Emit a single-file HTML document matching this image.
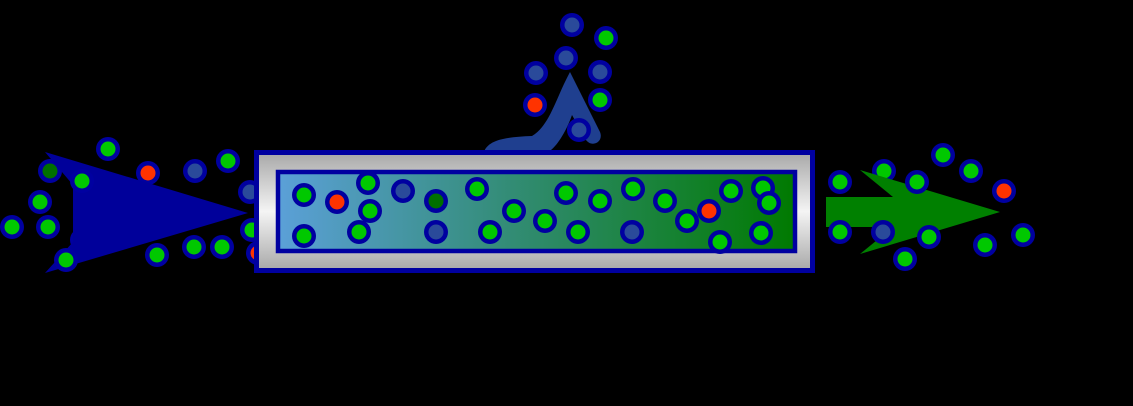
<!DOCTYPE html>
<html><head><style>html,body{margin:0;background:#000;width:1133px;height:406px;overflow:hidden}</style></head>
<body>
<svg width="1133" height="406" viewBox="0 0 1133 406" xmlns="http://www.w3.org/2000/svg">
<defs>
<linearGradient id="silver" x1="0" y1="0" x2="0" y2="1">
<stop offset="0" stop-color="#a8a8a8"/><stop offset="0.5" stop-color="#f4f4f4"/><stop offset="1" stop-color="#a8a8a8"/></linearGradient>
<linearGradient id="inner" x1="0" y1="0" x2="1" y2="0">
<stop offset="0" stop-color="#5ba0d8"/><stop offset="0.5" stop-color="#2e8a6a"/><stop offset="1" stop-color="#007a00"/></linearGradient>
</defs>
<g id="left">
<circle cx="108" cy="149" r="12" fill="#0000a0"/><circle cx="108" cy="149" r="7.5" fill="#00c800"/>
<circle cx="50" cy="171" r="12" fill="#0000a0"/><circle cx="50" cy="171" r="7.5" fill="#007000"/>
<circle cx="148" cy="173" r="12" fill="#0000a0"/><circle cx="148" cy="173" r="7.5" fill="#ff3300"/>
<circle cx="195" cy="171" r="12" fill="#0000a0"/><circle cx="195" cy="171" r="7.5" fill="#2a4a9a"/>
<circle cx="228" cy="161" r="12" fill="#0000a0"/><circle cx="228" cy="161" r="7.5" fill="#00c800"/>
<circle cx="40" cy="202" r="12" fill="#0000a0"/><circle cx="40" cy="202" r="7.5" fill="#00c800"/>
<circle cx="12" cy="227" r="12" fill="#0000a0"/><circle cx="12" cy="227" r="7.5" fill="#00c800"/>
<circle cx="48" cy="227" r="12" fill="#0000a0"/><circle cx="48" cy="227" r="7.5" fill="#00c800"/>
<circle cx="157" cy="255" r="12" fill="#0000a0"/><circle cx="157" cy="255" r="7.5" fill="#00c800"/>
<circle cx="194" cy="247" r="12" fill="#0000a0"/><circle cx="194" cy="247" r="7.5" fill="#00c800"/>
<circle cx="222" cy="247" r="12" fill="#0000a0"/><circle cx="222" cy="247" r="7.5" fill="#00c800"/>
<circle cx="250" cy="192" r="12" fill="#0000a0"/><circle cx="250" cy="192" r="7.5" fill="#2a4a9a"/>
<circle cx="252" cy="230" r="12" fill="#0000a0"/><circle cx="252" cy="230" r="7.5" fill="#00c800"/>
<circle cx="258" cy="253" r="12" fill="#0000a0"/><circle cx="258" cy="253" r="7.5" fill="#ff3300"/>
<circle cx="82" cy="240" r="12" fill="#0000a0"/><circle cx="82" cy="240" r="7.5" fill="#2a4a9a"/>
<polygon points="45,152 248,213 45,273 73,242 73,185" fill="#00009a"/>
<circle cx="82" cy="181" r="12" fill="#0000a0"/><circle cx="82" cy="181" r="7.5" fill="#00c800"/>
<circle cx="66" cy="260" r="12" fill="#0000a0"/><circle cx="66" cy="260" r="7.5" fill="#00c800"/>
</g>
<path d="M484,152 C488,140 505,137 532,136 C550,125 555,100 570,72 L600,132 C604,142 592,148 586,140 L572,115 C566,132 556,148 548,152 Z" fill="#1f3f8f"/>
<g>
<circle cx="572" cy="25" r="12" fill="#0000a0"/><circle cx="572" cy="25" r="7.5" fill="#2a4a9a"/>
<circle cx="606" cy="38" r="12" fill="#0000a0"/><circle cx="606" cy="38" r="7.5" fill="#00c800"/>
<circle cx="566" cy="58" r="12" fill="#0000a0"/><circle cx="566" cy="58" r="7.5" fill="#2a4a9a"/>
<circle cx="536" cy="73" r="12" fill="#0000a0"/><circle cx="536" cy="73" r="7.5" fill="#2a4a9a"/>
<circle cx="600" cy="72" r="12" fill="#0000a0"/><circle cx="600" cy="72" r="7.5" fill="#2a4a9a"/>
<circle cx="535" cy="105" r="12" fill="#0000a0"/><circle cx="535" cy="105" r="7.5" fill="#ff3300"/>
<circle cx="600" cy="100" r="12" fill="#0000a0"/><circle cx="600" cy="100" r="7.5" fill="#00c800"/>
<circle cx="579" cy="130" r="12" fill="#0000a0"/><circle cx="579" cy="130" r="7.5" fill="#2a4a9a"/>
</g>
<rect x="256.5" y="152.5" width="556" height="118" fill="url(#silver)" stroke="#0000a0" stroke-width="5"/>
<rect x="278" y="172" width="517" height="79" fill="url(#inner)" stroke="#0000a0" stroke-width="4.5"/>
<g>
<circle cx="304" cy="195" r="12" fill="#0000a0"/><circle cx="304" cy="195" r="7.5" fill="#00c800"/>
<circle cx="337" cy="202" r="12" fill="#0000a0"/><circle cx="337" cy="202" r="7.5" fill="#ff3300"/>
<circle cx="368" cy="183" r="12" fill="#0000a0"/><circle cx="368" cy="183" r="7.5" fill="#00c800"/>
<circle cx="370" cy="211" r="12" fill="#0000a0"/><circle cx="370" cy="211" r="7.5" fill="#00c800"/>
<circle cx="403" cy="191" r="12" fill="#0000a0"/><circle cx="403" cy="191" r="7.5" fill="#2a4a9a"/>
<circle cx="436" cy="201" r="12" fill="#0000a0"/><circle cx="436" cy="201" r="7.5" fill="#007000"/>
<circle cx="304" cy="236" r="12" fill="#0000a0"/><circle cx="304" cy="236" r="7.5" fill="#00c800"/>
<circle cx="359" cy="232" r="12" fill="#0000a0"/><circle cx="359" cy="232" r="7.5" fill="#00c800"/>
<circle cx="436" cy="232" r="12" fill="#0000a0"/><circle cx="436" cy="232" r="7.5" fill="#2a4a9a"/>
<circle cx="477" cy="189" r="12" fill="#0000a0"/><circle cx="477" cy="189" r="7.5" fill="#00c800"/>
<circle cx="514" cy="211" r="12" fill="#0000a0"/><circle cx="514" cy="211" r="7.5" fill="#00c800"/>
<circle cx="490" cy="232" r="12" fill="#0000a0"/><circle cx="490" cy="232" r="7.5" fill="#00c800"/>
<circle cx="545" cy="221" r="12" fill="#0000a0"/><circle cx="545" cy="221" r="7.5" fill="#00c800"/>
<circle cx="566" cy="193" r="12" fill="#0000a0"/><circle cx="566" cy="193" r="7.5" fill="#00c800"/>
<circle cx="578" cy="232" r="12" fill="#0000a0"/><circle cx="578" cy="232" r="7.5" fill="#00c800"/>
<circle cx="600" cy="201" r="12" fill="#0000a0"/><circle cx="600" cy="201" r="7.5" fill="#00c800"/>
<circle cx="633" cy="189" r="12" fill="#0000a0"/><circle cx="633" cy="189" r="7.5" fill="#00c800"/>
<circle cx="632" cy="232" r="12" fill="#0000a0"/><circle cx="632" cy="232" r="7.5" fill="#2a4a9a"/>
<circle cx="665" cy="201" r="12" fill="#0000a0"/><circle cx="665" cy="201" r="7.5" fill="#00c800"/>
<circle cx="687" cy="221" r="12" fill="#0000a0"/><circle cx="687" cy="221" r="7.5" fill="#00c800"/>
<circle cx="709" cy="211" r="12" fill="#0000a0"/><circle cx="709" cy="211" r="7.5" fill="#ff3300"/>
<circle cx="720" cy="242" r="12" fill="#0000a0"/><circle cx="720" cy="242" r="7.5" fill="#00c800"/>
<circle cx="731" cy="191" r="12" fill="#0000a0"/><circle cx="731" cy="191" r="7.5" fill="#00c800"/>
<circle cx="763" cy="188" r="12" fill="#0000a0"/><circle cx="763" cy="188" r="7.5" fill="#00c800"/>
<circle cx="769" cy="203" r="12" fill="#0000a0"/><circle cx="769" cy="203" r="7.5" fill="#00c800"/>
<circle cx="761" cy="233" r="12" fill="#0000a0"/><circle cx="761" cy="233" r="7.5" fill="#00c800"/>
</g>
<g>
<circle cx="884" cy="171" r="12" fill="#0000a0"/><circle cx="884" cy="171" r="7.5" fill="#00c800"/>
<circle cx="943" cy="155" r="12" fill="#0000a0"/><circle cx="943" cy="155" r="7.5" fill="#00c800"/>
<circle cx="971" cy="171" r="12" fill="#0000a0"/><circle cx="971" cy="171" r="7.5" fill="#00c800"/>
<circle cx="1004" cy="191" r="12" fill="#0000a0"/><circle cx="1004" cy="191" r="7.5" fill="#ff3300"/>
<polygon points="826,197 893,197 860,170 1000,212 860,254 893,227 826,227" fill="#008000"/>
<circle cx="840" cy="182" r="12" fill="#0000a0"/><circle cx="840" cy="182" r="7.5" fill="#00c800"/>
<circle cx="917" cy="182" r="12" fill="#0000a0"/><circle cx="917" cy="182" r="7.5" fill="#00c800"/>
<circle cx="840" cy="232" r="12" fill="#0000a0"/><circle cx="840" cy="232" r="7.5" fill="#00c800"/>
<circle cx="883" cy="232" r="12" fill="#0000a0"/><circle cx="883" cy="232" r="7.5" fill="#2a4a9a"/>
<circle cx="929" cy="237" r="12" fill="#0000a0"/><circle cx="929" cy="237" r="7.5" fill="#00c800"/>
<circle cx="905" cy="259" r="12" fill="#0000a0"/><circle cx="905" cy="259" r="7.5" fill="#00c800"/>
<circle cx="985" cy="245" r="12" fill="#0000a0"/><circle cx="985" cy="245" r="7.5" fill="#00c800"/>
<circle cx="1023" cy="235" r="12" fill="#0000a0"/><circle cx="1023" cy="235" r="7.5" fill="#00c800"/>
</g>
</svg>
</body></html>
